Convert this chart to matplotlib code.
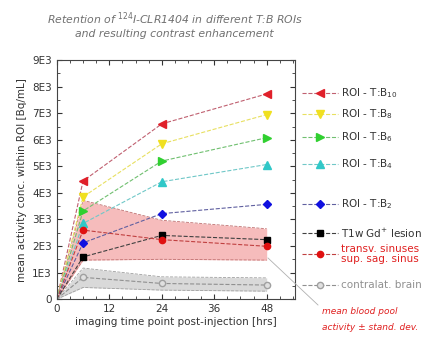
import matplotlib
matplotlib.use("Agg")
import matplotlib.pyplot as plt
from matplotlib.ticker import MultipleLocator, FuncFormatter

t = [0, 6, 24, 48]
b10 = [0, 4450, 6600, 7730]
b8 = [0, 3850, 5850, 6950]
b6 = [0, 3320, 5200, 6080]
b4 = [0, 2850, 4420, 5070]
b2 = [0, 2120, 3220, 3570]
lesion = [0, 1590, 2400, 2240]
sinus = [0, 2600, 2240, 1990]
sinus_hi = [0, 3720, 2970, 2650]
sinus_lo = [0, 1470, 1500, 1470]
brain = [0, 820, 590, 530]
brain_hi = [0, 1170, 840, 800]
brain_lo = [0, 440, 340, 300]

fig = plt.figure(figsize=(4.21, 3.38), dpi=100)
ax = fig.add_axes([0.135, 0.115, 0.566, 0.707])

ax.fill_between(t, sinus_lo, sinus_hi, color='#f4a6a6', alpha=0.75, lw=0)
ax.plot(t, sinus_hi, ls='--', color='#c07070', lw=0.6)
ax.plot(t, sinus_lo, ls='--', color='#c07070', lw=0.6)
ax.fill_between(t, brain_lo, brain_hi, color='#d0d0d0', alpha=0.8, lw=0)
ax.plot(t, brain_hi, ls='--', color='#a0a0a0', lw=0.6)
ax.plot(t, brain_lo, ls='--', color='#a0a0a0', lw=0.6)

series = [
    (b10, '<', '#e0202a', '#c06070', 'ROI - T:B$_{10}$'),
    (b8, 'v', '#f0e020', '#e8e060', 'ROI - T:B$_{8}$'),
    (b6, '>', '#30d030', '#70c070', 'ROI - T:B$_{6}$'),
    (b4, '^', '#30c8c8', '#70c8c8', 'ROI - T:B$_{4}$'),
    (b2, 'D', '#1010e0', '#6060a0', 'ROI - T:B$_{2}$'),
    (lesion, 's', '#000000', '#404040', 'T1w Gd$^{+}$ lesion'),
    (sinus, 'o', '#e01010', '#c04040', 'transv. sinuses\nsup. sag. sinus'),
]
handles = []
for y, m, mc, lc, lab in series:
    ms = 5.5 if m in '<>^v' else 4.5
    h, = ax.plot(t, y, ls='--', color=lc, lw=0.8, marker=m, markersize=ms,
                 markerfacecolor=mc, markeredgecolor=mc, markevery=[1, 2, 3], label=lab)
    handles.append(h)
hb, = ax.plot(t, brain, ls='--', color='#909090', lw=0.8, marker='o', markersize=4.5,
              markerfacecolor='#e0e0e0', markeredgecolor='#a0a0a0', markevery=[1, 2, 3],
              label='contralat. brain')

ax.set_xlim(0, 54.5)
ax.set_ylim(0, 9000)
ax.xaxis.set_major_locator(MultipleLocator(12))
ax.xaxis.set_minor_locator(MultipleLocator(3))
ax.yaxis.set_major_locator(MultipleLocator(1000))
ax.yaxis.set_minor_locator(MultipleLocator(500))
ax.yaxis.set_major_formatter(FuncFormatter(lambda v, p: '0' if v == 0 else f'{int(v/1000)}E3'))
ax.tick_params(which='both', direction='in', top=True, right=True, labelsize=7.5, colors='#333333')
ax.tick_params(which='major', length=3.5)
ax.tick_params(which='minor', length=2)
for s in ax.spines.values():
    s.set_color('#444444')
ax.set_xlabel('imaging time point post-injection [hrs]', fontsize=7.5, color='#333333', labelpad=2)
ax.set_ylabel('mean activity conc. within ROI [Bq/mL]', fontsize=7.5, color='#333333', labelpad=4)

fig.text(0.415, 0.945, 'Retention of $^{124}$I-CLR1404 in different T:B ROIs',
         ha='center', va='center', fontsize=7.8, style='italic', color='#707070')
fig.text(0.415, 0.900, 'and resulting contrast enhancement',
         ha='center', va='center', fontsize=7.8, style='italic', color='#707070')

# legend entries placed manually in figure coordinates
leg_y = [93, 114, 137, 164, 204, 233, 254, 285]
allh = handles + [hb]
labels = [h.get_label() for h in allh]
for h, lab, yp in zip(allh, labels, leg_y):
    yf = 1 - yp / 338
    fig.add_artist(plt.Line2D([302 / 421, 338 / 421], [yf, yf], ls='--', lw=0.8,
                              color=h.get_color(), transform=fig.transFigure))
    fig.add_artist(plt.Line2D([320 / 421], [yf], marker=h.get_marker(), markersize=h.get_markersize(),
                              markerfacecolor=h.get_markerfacecolor(),
                              markeredgecolor=h.get_markeredgecolor(), transform=fig.transFigure))
    col = '#333333'
    if 'sinus' in lab:
        col = '#e02020'
    elif 'brain' in lab:
        col = '#909090'
    fig.text(341 / 421, yf, lab, ha='left', va='center', fontsize=7.5, color=col, linespacing=0.95)

fig.add_artist(plt.Line2D([268 / 421, 318 / 421], [1 - 258 / 338, 1 - 305 / 338], lw=0.6,
                          color='#b0b0b0', transform=fig.transFigure))
fig.text(322 / 421, 1 - 312 / 338, 'mean blood pool', fontsize=6.5, style='italic', color='#e02020',
         ha='left', va='center')
fig.text(322 / 421, 1 - 328 / 338, 'activity ± stand. dev.', fontsize=6.5, style='italic',
         color='#e02020', ha='left', va='center')

fig.savefig('out.png', dpi=100)
